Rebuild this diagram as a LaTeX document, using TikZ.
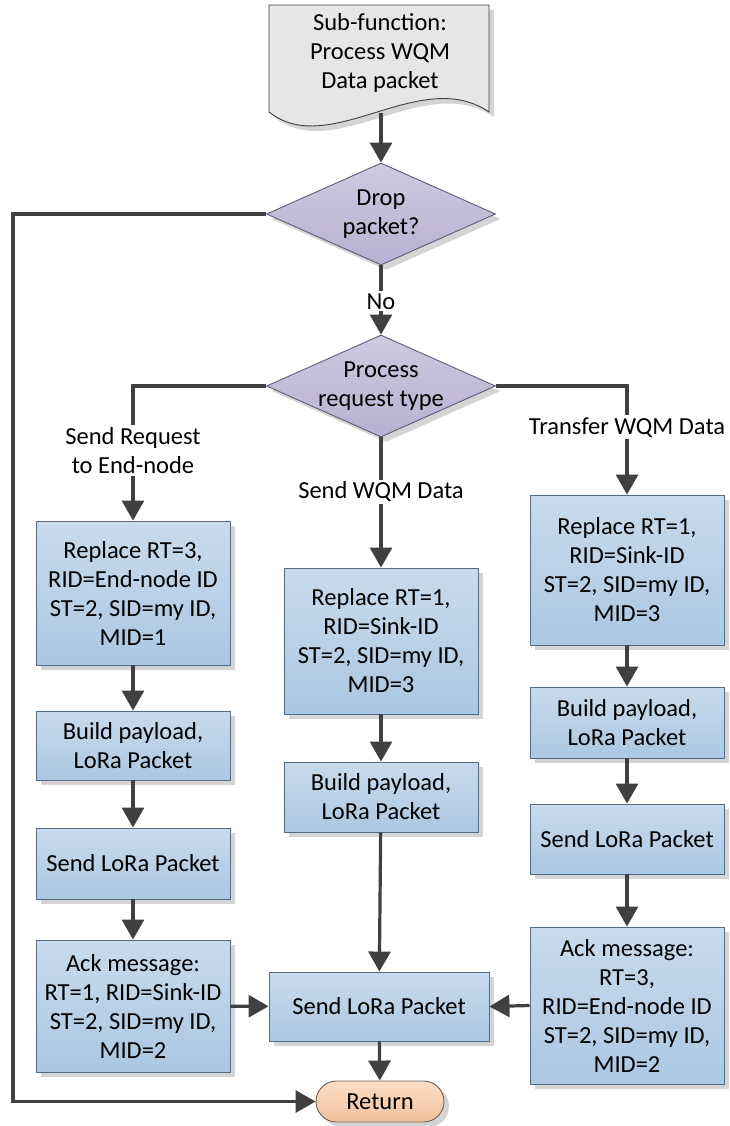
\documentclass[tikz,border=0pt]{standalone}
\usepackage{fontspec}
\setmainfont{Carlito}
\usetikzlibrary{arrows.meta,shapes.geometric,shadows}

\definecolor{linec}{RGB}{64,64,64}
\definecolor{boxtop}{RGB}{200,219,237}
\definecolor{boxbot}{RGB}{171,199,226}
\definecolor{boxline}{RGB}{84,108,134}
\definecolor{dtop}{RGB}{207,201,226}
\definecolor{dbot}{RGB}{184,176,209}
\definecolor{dline}{RGB}{96,90,122}
\definecolor{docfill}{RGB}{230,230,230}
\definecolor{rtop}{RGB}{251,222,199}
\definecolor{rbot}{RGB}{242,193,156}
\definecolor{rline}{RGB}{110,96,88}
\definecolor{shadowc}{RGB}{212,212,212}

\tikzset{
  txt/.style={font=\fontsize{24.5}{29}\selectfont, align=center, text=black},
  shade/.style={drop shadow={shadow xshift=5pt, shadow yshift=-5pt, fill=shadowc, opacity=1}},
  procbox/.style={txt, rectangle, draw=boxline, line width=0.9pt,
    top color=boxtop, bottom color=boxbot, shade, inner sep=0pt},
  decision/.style={diamond, draw=dline, line width=0.9pt,
    top color=dtop, bottom color=dbot, shade, inner sep=0pt, aspect=2.25,
    minimum width=229pt, minimum height=102pt},
  terminal/.style={txt, rectangle, rounded corners=20.5pt, draw=rline, line width=0.9pt,
    top color=rtop, bottom color=rbot, shade, minimum width=128pt, minimum height=41pt},
  arr/.style={draw=linec, line width=3.2pt, -{Triangle[width=22pt,length=20pt]}},
  lbl/.style={txt, fill=white, inner sep=2pt}
}

\begin{document}
\begin{tikzpicture}[x=1pt, y=-1pt]
\useasboundingbox (0,0) rectangle (729,1126);

% start: document shape
\fill[shadowc] (274,10) -- (494,10) -- (494,117)
  .. controls (425,70) and (335,165) .. (274,117) -- cycle;
\draw[fill=docfill, draw=linec, line width=0.9pt] (269,5) -- (489,5) -- (489,112)
  .. controls (420,65) and (330,160) .. (269,112) -- cycle;
\node[txt] (doc) at (380,53) {Sub-function:\\Process WQM\\Data packet};
\coordinate (docb) at (381,113);

% decisions (shape and text placed separately)
\node[decision] (d1) at (381,214) {};
\node[txt] (d1t) at (d1) {Drop\\packet?};
\node[decision] (d2) at (381,386) {};
\node[txt] (d2t) at (d2) {Process\\request type};

% left branch
\node[procbox, minimum width=194pt, minimum height=144pt] (L1) at (133,593)
  {Replace RT=3,\\RID=End-node ID\\ST=2, SID=my ID,\\MID=1};
\node[procbox, minimum width=194pt, minimum height=69pt] (L2) at (133,745.5)
  {Build payload,\\LoRa Packet};
\node[procbox, minimum width=194pt, minimum height=71pt] (L3) at (133,863.5)
  {Send LoRa Packet};
\node[procbox, minimum width=194pt, minimum height=132pt] (L4) at (133,1006)
  {Ack message:\\RT=1, RID=Sink-ID\\ST=2, SID=my ID,\\MID=2};

% middle branch
\node[procbox, minimum width=194pt, minimum height=146pt] (M1) at (381,641)
  {Replace RT=1,\\RID=Sink-ID\\ST=2, SID=my ID,\\MID=3};
\node[procbox, minimum width=194pt, minimum height=70pt] (M2) at (381,797)
  {Build payload,\\LoRa Packet};
\node[procbox, minimum width=220pt, minimum height=69pt] (S) at (379,1006.5)
  {Send LoRa Packet};

% right branch
\node[procbox, minimum width=194pt, minimum height=150pt] (R1) at (627,570)
  {Replace RT=1,\\RID=Sink-ID\\ST=2, SID=my ID,\\MID=3};
\node[procbox, minimum width=194pt, minimum height=71pt] (R2) at (627,722.5)
  {Build payload,\\LoRa Packet};
\node[procbox, minimum width=194pt, minimum height=70pt] (R3) at (627,839)
  {Send LoRa Packet};
\node[procbox, minimum width=194pt, minimum height=157pt] (R4) at (627,1005.5)
  {Ack message:\\RT=3,\\RID=End-node ID\\ST=2, SID=my ID,\\MID=2};

% end
\node[terminal] (ret) at (380,1101.5) {Return};

% connectors
\coordinate (loop) at (13,214);
\draw[arr] (docb) -- (d1.north);
\draw[arr] (d1.south) -- node[lbl, pos=0.52]{No} (d2.north);
\draw[arr] (d1.west) -- (loop) |- (ret.west);

\draw[arr] (d2.west) -| node[lbl, pos=0.74]{Send Request\\to End-node} (L1.north);
\draw[arr] (d2.south) -- node[lbl, pos=0.42]{Send WQM Data} (M1.north);
\draw[arr] (d2.east) -| node[lbl, pos=0.69]{Transfer WQM Data} (R1.north);

\draw[arr] (L1) -- (L2);
\draw[arr] (L2) -- (L3);
\draw[arr] (L3) -- (L4);
\draw[arr] (L4) -- (S);

\draw[arr] (M1) -- (M2);
\draw[arr] (M2) -- (S);

\draw[arr] (R1) -- (R2);
\draw[arr] (R2) -- (R3);
\draw[arr] (R3) -- (R4);
\draw[arr] (R4.west) -- (S.east);

\draw[arr] (S) -- (ret);
\end{tikzpicture}
\end{document}
